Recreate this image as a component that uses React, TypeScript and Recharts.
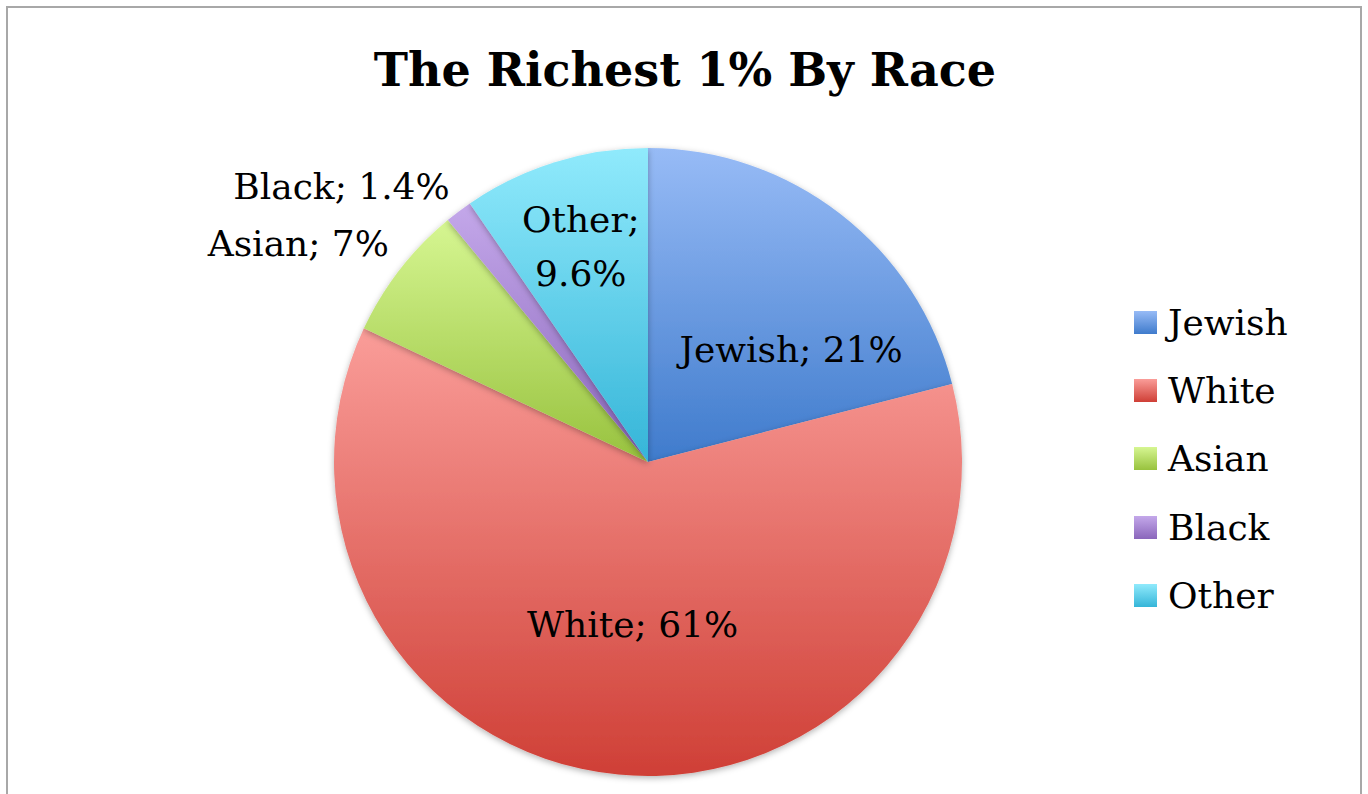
import React from 'react';
import { PieChart, Pie, Cell } from 'recharts';

const categories = ['Jewish', 'White', 'Asian', 'Black', 'Other'];
const shares = [21, 61, 7, 1.4, 9.6];
const shareLabels = ['21%', '61%', '7%', '1.4%', '9.6%'];

const data = categories.map((name, i) => ({ name, value: shares[i], pct: shareLabels[i] }));

// top / bottom colours of each slice gradient
const gradients: Record<string, [string, string]> = {
  Jewish: ['#97bbf6', '#3f7bcc'],
  White: ['#fa9d99', '#cf3f36'],
  Asian: ['#d6f692', '#98c23e'],
  Black: ['#c4a8ea', '#8a66bb'],
  Other: ['#90eafc', '#35b5d8'],
};

// where each data label sits: radius as share of outer radius, angle nudge, anchor
const labelPlacement: Record<string, { r: number; da: number; anchor: 'middle' | 'end'; split?: boolean }> = {
  Jewish: { r: 0.58, da: -14, anchor: 'middle' },
  White: { r: 0.52, da: 0, anchor: 'middle' },
  Asian: { r: 1.08, da: -2.4, anchor: 'end' },
  Black: { r: 1.08, da: -1.3, anchor: 'end' },
  Other: { r: 0.72, da: 0, anchor: 'middle', split: true },
};

const FONT = '"DejaVu Serif", serif';
const RAD = Math.PI / 180;

const renderLabel = (props: any) => {
  const { cx, cy, midAngle, outerRadius, payload } = props;
  const p = labelPlacement[payload.name];
  const a = (midAngle + p.da) * RAD;
  const r = outerRadius * p.r;
  const x = cx + r * Math.cos(a);
  const y = cy - r * Math.sin(a);
  const common = {
    x,
    textAnchor: p.anchor,
    fill: '#000',
    fontSize: 36,
    fontFamily: FONT,
    dominantBaseline: 'central' as const,
  };
  if (p.split) {
    return (
      <g>
        <text {...common} y={y - 27}>{`${payload.name};`}</text>
        <text {...common} y={y + 27}>{payload.pct}</text>
      </g>
    );
  }
  return <text {...common} y={y}>{`${payload.name}; ${payload.pct}`}</text>;
};

export default function App() {
  return (
    <div
      style={{
        position: 'absolute',
        left: 0,
        top: 0,
        width: 1368,
        height: 794,
        background: '#fff',
        overflow: 'hidden',
        fontFamily: FONT,
      }}
    >
      <div
        style={{
          position: 'absolute',
          left: 6,
          top: 6,
          width: 1352,
          height: 820,
          border: '2px solid #a8a8a8',
        }}
      />
      <div
        style={{
          position: 'absolute',
          left: 0,
          width: 1370,
          top: 40,
          textAlign: 'center',
          fontSize: 46,
          fontWeight: 'bold',
          lineHeight: '60px',
        }}
      >
        The Richest 1% By Race
      </div>
      <div style={{ position: 'absolute', left: 0, top: 0 }}>
        <PieChart width={1368} height={794} margin={{ top: 0, right: 0, bottom: 0, left: 0 }}>
          <defs>
            {categories.map((c) => (
              <linearGradient key={c} id={`g-${c}`} x1="0" y1="0" x2="0" y2="1">
                <stop offset="0%" stopColor={gradients[c][0]} />
                <stop offset="100%" stopColor={gradients[c][1]} />
              </linearGradient>
            ))}
            <filter id="shadow" x="-10%" y="-10%" width="120%" height="120%">
              <feDropShadow dx="0" dy="2" stdDeviation="3" floodColor="#000" floodOpacity="0.3" />
            </filter>
          </defs>
          <Pie
            data={data}
            dataKey="value"
            nameKey="name"
            cx={648}
            cy={462}
            outerRadius={314}
            startAngle={90}
            endAngle={-270}
            stroke="none"
            label={renderLabel}
            labelLine={false}
            isAnimationActive={false}
            style={{ filter: 'url(#shadow)' }}
          >
            {data.map((d) => (
              <Cell key={d.name} fill={`url(#g-${d.name})`} />
            ))}
          </Pie>
        </PieChart>
      </div>
      <div style={{ position: 'absolute', left: 1134, top: 288 }}>
        {categories.map((c) => (
          <div key={c} style={{ display: 'flex', alignItems: 'center', height: 68.3 }}>
            <div
              style={{
                width: 23,
                height: 23,
                background: `linear-gradient(${gradients[c][0]}, ${gradients[c][1]})`,
                marginRight: 11,
              }}
            />
            <span style={{ fontSize: 36 }}>{c}</span>
          </div>
        ))}
      </div>
    </div>
  );
}
